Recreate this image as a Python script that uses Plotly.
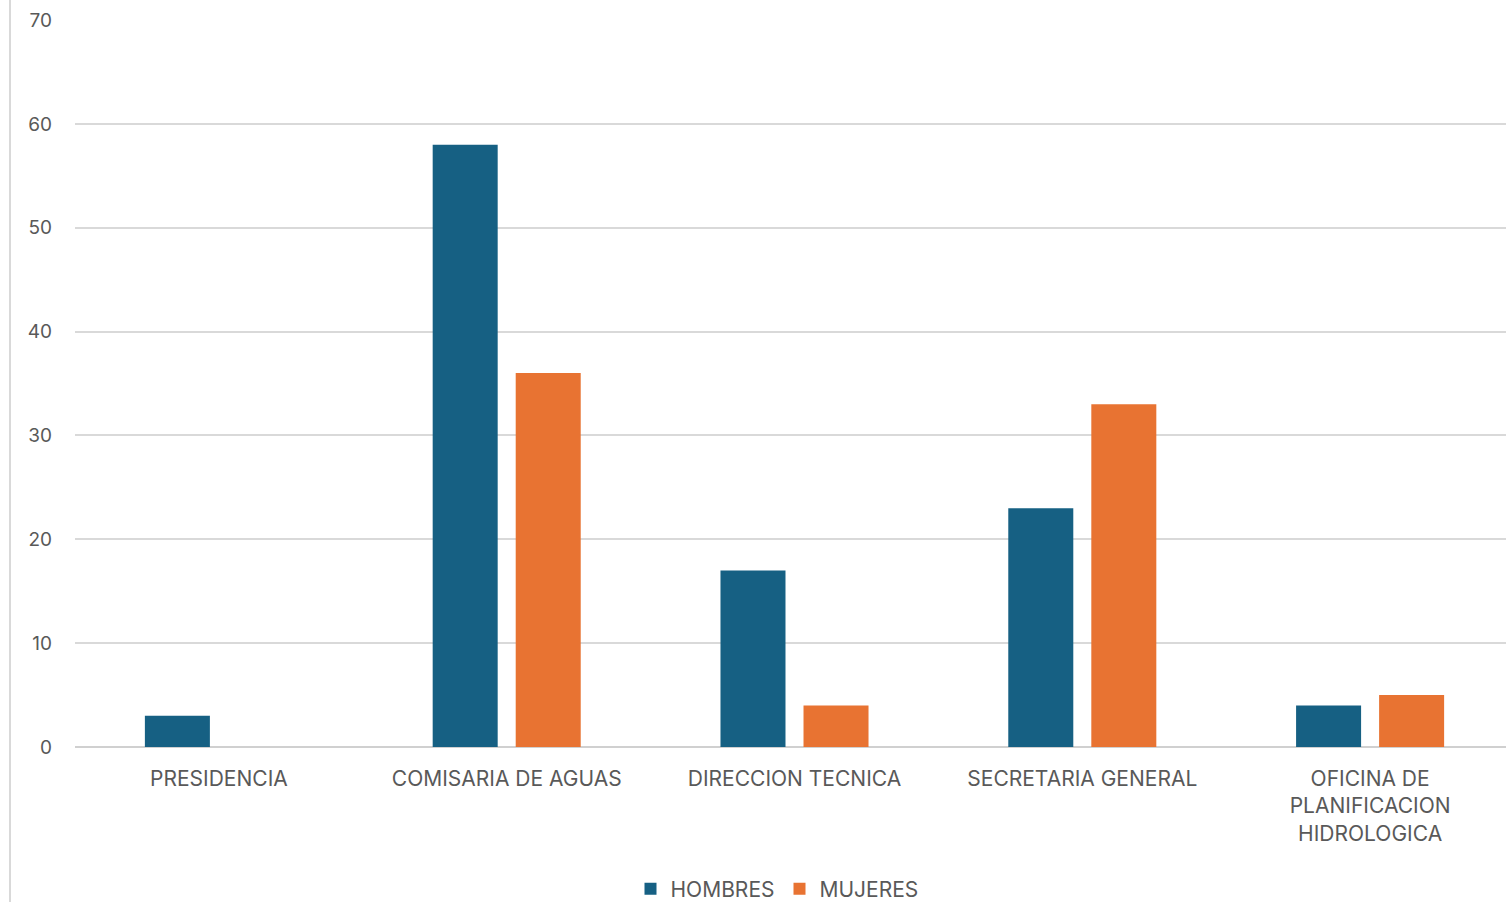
import plotly.graph_objects as go

categories = ["PRESIDENCIA", "COMISARIA DE AGUAS", "DIRECCION TECNICA",
              "SECRETARIA GENERAL", "OFICINA DE<br>PLANIFICACION<br>HIDROLOGICA"]
hombres = [3, 58, 17, 23, 4]
mujeres = [None, 36, 4, 33, 5]
y_ticks = [0, 10, 20, 30, 40, 50, 60, 70]

W, H = 1514, 902
ml, mr, mt, mb = 75, 0, 20, 155
plot_w = W - ml - mr
plot_h = H - mt - mb

font_family = "Inter, Open Sans, sans-serif"
text_color = "#595959"

fig = go.Figure()
fig.add_trace(go.Bar(name="HOMBRES", x=categories, y=hombres, marker_color="#166083",
                     marker_line_width=0))
fig.add_trace(go.Bar(name="MUJERES", x=categories, y=mujeres, marker_color="#E87332",
                     marker_line_width=0))

fig.update_layout(
    width=W, height=H,
    margin=dict(l=ml, r=mr, t=mt, b=mb, autoexpand=False),
    paper_bgcolor="white", plot_bgcolor="white",
    barmode="group", bargap=0.423, bargroupgap=0.217,
    font=dict(family=font_family, color=text_color, size=21),
    showlegend=True,
    legend=dict(orientation="h", x=(777 - ml) / plot_w, xanchor="center",
                y=(747 - 889) / plot_h,
                yanchor="middle", font=dict(size=21, color=text_color),
                itemwidth=30, tracegroupgap=0),
    xaxis=dict(showgrid=False, showline=False, ticks="", tickfont=dict(size=21, color=text_color),
               ticklabelstandoff=17),
    yaxis=dict(range=[0, 70], tickvals=y_ticks, showgrid=True, gridcolor="#d9d9d9", gridwidth=1.5,
               zeroline=True, zerolinecolor="#d0d0d0", zerolinewidth=2,
               showline=False, ticks="", tickfont=dict(size=19, color=text_color),
               ticklabelstandoff=22),
    shapes=[dict(type="line", xref="paper", yref="paper",
                 x0=(10 - ml) / plot_w, x1=(10 - ml) / plot_w,
                 y0=(747 - H) / plot_h, y1=(747 - 0) / plot_h,
                 line=dict(color="#d9d9d9", width=2))],
)

fig.write_html("out.html", config={"displayModeBar": False},
               post_script="document.body.style.margin='0';document.body.style.overflow='hidden';")
